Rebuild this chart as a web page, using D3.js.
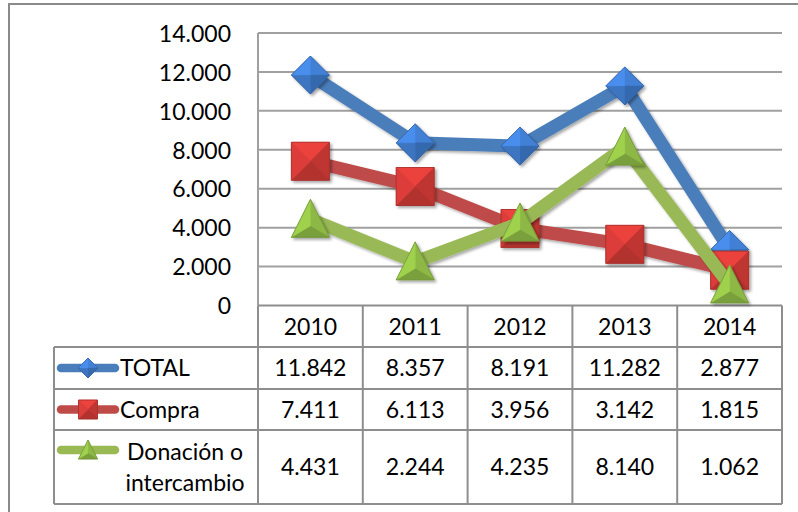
<!DOCTYPE html>
<html>
<head>
<meta charset="utf-8">
<script src="https://cdn.jsdelivr.net/npm/d3@7"></script>
<style>
  html, body { margin: 0; padding: 0; background: #fff; }
  svg { display: block; }
  text { font-family: "Lato", "Open Sans", sans-serif; fill: #000; }
</style>
</head>
<body>
<svg id="chart" width="798" height="512"></svg>
<script>
// ---------- data ----------
const categories = ["2010", "2011", "2012", "2013", "2014"];
const seriesNames = ["TOTAL", "Compra", "Donación o intercambio"];
const totalValues = [11842, 8357, 8191, 11282, 2877];
const compraValues = [7411, 6113, 3956, 3142, 1815];
const donacionValues = [4431, 2244, 4235, 8140, 1062];
const yTicks = [0, 2000, 4000, 6000, 8000, 10000, 12000, 14000];

// ---------- styles ----------
const seriesStyle = [
  { line: "#4A7EBB", marker: "#3F7ACB", shape: "diamond", labelLines: ["TOTAL"] },
  { line: "#BE4B48", marker: "#CD3A36", shape: "square", labelLines: ["Compra"] },
  { line: "#98B954", marker: "#8DB845", shape: "triangle", labelLines: ["Donación o", "intercambio"] }
];
const series = [totalValues, compraValues, donacionValues].map((vals, i) => ({
  name: seriesNames[i], values: vals, ...seriesStyle[i]
}));

const loc = d3.formatLocale({ decimal: ",", thousands: ".", grouping: [3], currency: ["", ""] });
const fmt = loc.format(",d");

const svg = d3.select("#chart");
const W = 798, H = 512;
const plot = { left: 258, right: 782, top: 33, bottom: 305.5 };
const gridColor = "#A0A0A0";
const tableColor = "#8E8E8E";
const fontSize = 23;

svg.append("rect").attr("width", W).attr("height", H).attr("fill", "#fff");

// outer chart border
svg.append("rect").attr("x", 9).attr("y", 4).attr("width", W + 10).attr("height", H + 10)
  .attr("fill", "none").attr("stroke", "#8A8A8A").attr("stroke-width", 2);

// defs: shadow
const defs = svg.append("defs");
const sh = defs.append("filter").attr("id", "shadow").attr("x", "-30%").attr("y", "-30%")
  .attr("width", "160%").attr("height", "160%");
sh.append("feGaussianBlur").attr("in", "SourceAlpha").attr("stdDeviation", 1.8);
sh.append("feOffset").attr("dx", 1.5).attr("dy", 2).attr("result", "ob");
sh.append("feComponentTransfer").append("feFuncA").attr("type", "linear").attr("slope", 0.35);
const m = sh.append("feMerge");
m.append("feMergeNode");
m.append("feMergeNode").attr("in", "SourceGraphic");

// ---------- scales ----------
const x = d3.scaleBand().domain(categories).range([plot.left, plot.right]);
const y = d3.scaleLinear().domain([0, 14000]).range([plot.bottom, plot.top]);

// gridlines
svg.append("g").selectAll("line").data(yTicks.filter(t => t > 0)).join("line")
  .attr("x1", plot.left).attr("x2", plot.right)
  .attr("y1", d => y(d)).attr("y2", d => y(d))
  .attr("stroke", gridColor).attr("stroke-width", 2);

// value axis line
svg.append("line").attr("x1", plot.left).attr("x2", plot.left)
  .attr("y1", plot.top).attr("y2", plot.bottom)
  .attr("stroke", gridColor).attr("stroke-width", 2);

// y tick labels via d3 axis
const yAxis = d3.axisLeft(y).tickValues(yTicks).tickFormat(fmt).tickSize(0).tickPadding(0);
const gy = svg.append("g").attr("transform", `translate(${231},0)`).call(yAxis);
gy.select(".domain").remove();
gy.selectAll("text").attr("font-size", fontSize).attr("font-family", "Lato, 'Open Sans', sans-serif")
  .attr("fill", "#000").attr("dy", "0.36em");

// ---------- data table ----------
const rows = [
  { top: 305.5, bottom: 347 },
  { top: 347, bottom: 389 },
  { top: 389, bottom: 430 },
  { top: 430, bottom: 504 }
];
const tableLeft = 54;
const tg = svg.append("g");
// horizontal lines
tg.append("line").attr("x1", plot.left).attr("x2", plot.right).attr("y1", rows[0].top).attr("y2", rows[0].top)
  .attr("stroke", tableColor).attr("stroke-width", 2);
rows.forEach((r, i) => {
  tg.append("line").attr("x1", i === rows.length - 1 ? tableLeft : tableLeft).attr("x2", plot.right)
    .attr("y1", r.bottom).attr("y2", r.bottom).attr("stroke", tableColor).attr("stroke-width", 2);
});
// vertical lines
const colEdges = categories.map(c => x(c)).concat([plot.right]);
colEdges.forEach(xe => {
  tg.append("line").attr("x1", xe).attr("x2", xe).attr("y1", rows[0].top).attr("y2", rows[3].bottom)
    .attr("stroke", tableColor).attr("stroke-width", 2);
});
tg.append("line").attr("x1", tableLeft).attr("x2", tableLeft).attr("y1", rows[1].top).attr("y2", rows[3].bottom)
  .attr("stroke", tableColor).attr("stroke-width", 2);

// category labels
tg.selectAll("text.cat").data(categories).join("text").attr("class", "cat")
  .attr("x", d => x(d) + x.bandwidth() / 2).attr("y", (rows[0].top + rows[0].bottom) / 2)
  .attr("dy", "0.36em").attr("text-anchor", "middle").attr("font-size", fontSize).text(d => d);

// value cells
series.forEach((s, si) => {
  const r = rows[si + 1];
  const cy = (r.top + r.bottom) / 2;
  tg.selectAll(null).data(s.values).join("text")
    .attr("x", (d, i) => x(categories[i]) + x.bandwidth() / 2).attr("y", cy)
    .attr("dy", "0.36em").attr("text-anchor", "middle").attr("font-size", fontSize)
    .text(d => fmt(d));
});

// ---------- marker drawing (bevelled pyramid) ----------
function shapeVerts(shape, cx, cy, s) {
  if (shape === "diamond") return [[cx, cy - s], [cx + s, cy], [cx, cy + s], [cx - s, cy]];
  if (shape === "square") return [[cx - s, cy - s], [cx + s, cy - s], [cx + s, cy + s], [cx - s, cy + s]];
  // triangle
  return [[cx, cy - s * 1.05], [cx + s, cy + s * 0.95], [cx - s, cy + s * 0.95]];
}
function drawMarker(g, shape, cx, cy, s, base, shadow) {
  const v = shapeVerts(shape, cx, cy, s);
  const c = [d3.mean(v, p => p[0]), d3.mean(v, p => p[1])];
  if (shape === "triangle") c[1] = cy + s * 0.35;
  const mg = g.append("g");
  if (shadow) mg.attr("filter", "url(#shadow)");
  mg.append("path").attr("d", "M" + v.map(p => p.join(",")).join("L") + "Z").attr("fill", base);
  const light = [-0.45, -0.89];
  for (let i = 0; i < v.length; i++) {
    const a = v[i], b = v[(i + 1) % v.length];
    let nx = b[1] - a[1], ny = -(b[0] - a[0]);
    const len = Math.hypot(nx, ny); nx /= len; ny /= len;
    // ensure outward
    const mx = (a[0] + b[0]) / 2 - c[0], my = (a[1] + b[1]) / 2 - c[1];
    if (nx * mx + ny * my < 0) { nx = -nx; ny = -ny; }
    const dot = nx * light[0] + ny * light[1];
    const col = dot >= 0 ? d3.color(base).brighter(dot * 0.45) : d3.color(base).darker(-dot * 0.45);
    mg.append("path").attr("d", `M${a.join(",")}L${b.join(",")}L${c.join(",")}Z`)
      .attr("fill", col.formatHex()).attr("stroke", col.formatHex()).attr("stroke-width", 0.4);
  }
  mg.append("path").attr("d", "M" + v.map(p => p.join(",")).join("L") + "Z")
    .attr("fill", "none").attr("stroke", d3.color(base).darker(0.6).formatHex()).attr("stroke-width", 0.8);
}

// ---------- series lines and markers ----------
const lineGen = d3.line().x((d, i) => x(categories[i]) + x.bandwidth() / 2).y(d => y(d));
series.forEach(s => {
  const g = svg.append("g");
  g.append("path").datum(s.values).attr("d", lineGen)
    .attr("fill", "none").attr("stroke", s.line).attr("stroke-width", 13)
    .attr("stroke-linejoin", "round").attr("stroke-linecap", "round")
    .attr("filter", "url(#shadow)");
  s.values.forEach((v, i) => {
    drawMarker(g, s.shape, x(categories[i]) + x.bandwidth() / 2, y(v), 19, s.marker, true);
  });
});

// ---------- legend keys in table ----------
series.forEach((s, si) => {
  const r = rows[si + 1];
  const g = svg.append("g");
  const ky = si === 2 ? 450 : (r.top + r.bottom) / 2;
  g.append("line").attr("x1", 61).attr("x2", 115).attr("y1", ky).attr("y2", ky)
    .attr("stroke", s.line).attr("stroke-width", 8.5).attr("stroke-linecap", "round");
  drawMarker(g, s.shape, 88, ky, s.shape === "diamond" ? 10 : 9.5, s.marker, false);
  if (s.labelLines.length === 1) {
    g.append("text").attr("x", 120).attr("y", (r.top + r.bottom) / 2).attr("dy", "0.36em")
      .attr("font-size", fontSize).text(s.labelLines[0]);
  } else {
    const cy = (r.top + r.bottom) / 2;
    s.labelLines.forEach((t, li) => {
      g.append("text").attr("x", 185).attr("y", cy + (li - 0.5) * 31).attr("dy", "0.36em")
        .attr("text-anchor", "middle").attr("font-size", fontSize).text(t);
    });
  }
});
</script>
</body>
</html>
